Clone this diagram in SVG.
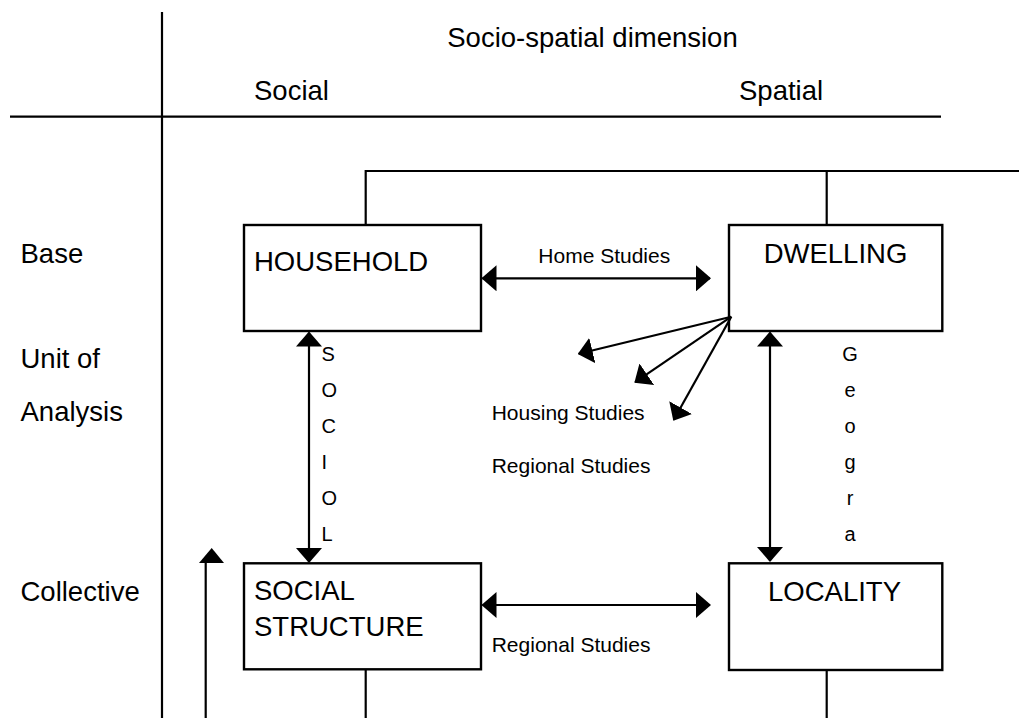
<svg xmlns="http://www.w3.org/2000/svg" width="1019" height="718" viewBox="0 0 1019 718">
<style>
  .ln { stroke: #000; stroke-width: 2.2; fill: none; }
  .box { stroke: #000; stroke-width: 2.4; fill: #fff; }
  .big { font-family: "Liberation Sans", Arial, sans-serif; font-size: 27.5px; fill: #000; }
  .lbl { font-family: "Liberation Sans", Arial, sans-serif; font-size: 21px; fill: #000; }
  .ch { font-family: "Liberation Sans", Arial, sans-serif; font-size: 20px; fill: #000; }
  .arr { stroke: #000; stroke-width: 2.2; fill: none; marker-end: url(#ah); }
  .arr2 { stroke: #000; stroke-width: 2.2; fill: none; marker-start: url(#ah); marker-end: url(#ah); }
</style>
<defs>
  <marker id="ah" viewBox="0 0 15 26" refX="14" refY="13" markerWidth="15" markerHeight="26" markerUnits="userSpaceOnUse" orient="auto-start-reverse">
    <path d="M0,0 L15,13 L0,26 z" fill="#000"/>
  </marker>
</defs>
<rect width="1019" height="718" fill="#fff"/>

<g id="axes">
  <line class="ln" x1="162" y1="12" x2="162" y2="718"/>
  <line class="ln" x1="10" y1="116.7" x2="941" y2="116.7"/>
  <text class="big" x="592.5" y="47" text-anchor="middle">Socio-spatial dimension</text>
  <text class="big" x="254" y="100">Social</text>
  <text class="big" x="739" y="100">Spatial</text>
  <text class="big" x="20.5" y="262.7">Base</text>
  <text class="big" x="20.5" y="368">Unit of</text>
  <text class="big" x="20.5" y="420.7">Analysis</text>
  <text class="big" x="20.5" y="600.7">Collective</text>
</g>

<g id="household">
  <rect class="box" x="244" y="225" width="237" height="106"/>
  <text class="big" x="254" y="271">HOUSEHOLD</text>
</g>

<g id="dwelling">
  <rect class="box" x="729" y="225" width="213.3" height="106"/>
  <text class="big" x="835.5" y="262.7" text-anchor="middle">DWELLING</text>
</g>

<g id="social-structure">
  <rect class="box" x="244" y="563.3" width="237" height="106"/>
  <text class="big" x="254" y="600">SOCIAL</text>
  <text class="big" x="254" y="636">STRUCTURE</text>
</g>

<g id="locality">
  <rect class="box" x="729" y="563.3" width="213.3" height="106.7"/>
  <text class="big" x="834.5" y="600.7" text-anchor="middle">LOCALITY</text>
</g>

<g id="connectors">
  <polyline class="ln" points="365.7,225 365.7,171 1019,171"/>
  <line class="ln" x1="826.7" y1="171" x2="826.7" y2="225"/>
  <line class="ln" x1="365.7" y1="669.3" x2="365.7" y2="718"/>
  <line class="ln" x1="826.7" y1="670" x2="826.7" y2="718"/>

  <line class="arr2" x1="482.5" y1="278.3" x2="710" y2="278.3"/>
  <line class="arr2" x1="482.5" y1="605" x2="710" y2="605"/>
  <line class="arr2" x1="309" y1="332.5" x2="309" y2="562"/>
  <line class="arr2" x1="770" y1="332.5" x2="770" y2="561"/>

  <line class="arr" x1="731.3" y1="316.7" x2="578.7" y2="353.8"/>
  <line class="arr" x1="731.3" y1="316.7" x2="635.2" y2="382.1"/>
  <line class="arr" x1="731.3" y1="316.7" x2="673.8" y2="419.8"/>

  <line class="ln" x1="205.7" y1="718" x2="205.7" y2="560"/>
  <polygon points="211.7,548 199,563 224,563" fill="#000"/>
</g>

<g id="labels">
  <text class="lbl" x="538.3" y="262.7">Home Studies</text>
  <text class="lbl" x="491.7" y="420">Housing Studies</text>
  <text class="lbl" x="491.7" y="472.7">Regional Studies</text>
  <text class="lbl" x="491.7" y="651.7">Regional Studies</text>
  <text class="ch" x="321.5" y="361">S</text>
  <text class="ch" x="321.5" y="397">O</text>
  <text class="ch" x="321.5" y="433">C</text>
  <text class="ch" x="321.5" y="469">I</text>
  <text class="ch" x="321.5" y="505">O</text>
  <text class="ch" x="321.5" y="541">L</text>
  <text class="ch" x="850" y="361" text-anchor="middle">G</text>
  <text class="ch" x="850" y="397" text-anchor="middle">e</text>
  <text class="ch" x="850" y="433" text-anchor="middle">o</text>
  <text class="ch" x="850" y="469" text-anchor="middle">g</text>
  <text class="ch" x="850" y="505" text-anchor="middle">r</text>
  <text class="ch" x="850" y="541" text-anchor="middle">a</text>
</g>
</svg>
